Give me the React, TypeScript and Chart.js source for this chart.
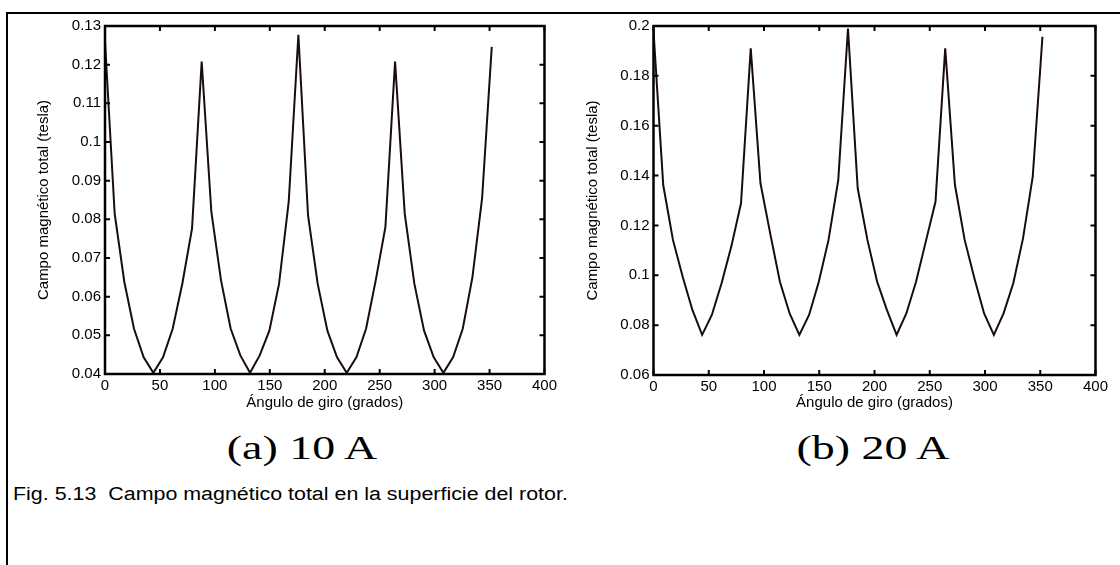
import React, { useEffect, useRef } from "react";
import { Chart, registerables } from "chart.js";

Chart.register(...registerables);

// ---------- data ----------
const angleDeg = [
  0, 8.8, 17.6, 26.4, 35.2, 44, 52.8, 61.6, 70.4, 79.2, 88, 96.8, 105.6, 114.4,
  123.2, 132, 140.8, 149.6, 158.4, 167.2, 176, 184.8, 193.6, 202.4, 211.2, 220,
  228.8, 237.6, 246.4, 255.2, 264, 272.8, 281.6, 290.4, 299.2, 308, 316.8,
  325.6, 334.4, 343.2, 352,
];

const field10A = [
  0.126, 0.0815, 0.0638, 0.0517, 0.0443, 0.0403, 0.0443, 0.0517, 0.0634,
  0.0776, 0.1208, 0.0819, 0.0642, 0.0517, 0.0448, 0.0403, 0.0448, 0.0512,
  0.0633, 0.0845, 0.1277, 0.081, 0.0633, 0.0512, 0.0443, 0.0403, 0.0443,
  0.0517, 0.0642, 0.078, 0.1208, 0.0815, 0.0633, 0.0512, 0.0443, 0.0403,
  0.0443, 0.0517, 0.065, 0.0854, 0.1246,
];

const field20A = [
  0.198, 0.1362, 0.1142, 0.0994, 0.0861, 0.0761, 0.0841, 0.0968, 0.1115,
  0.1289, 0.191, 0.1369, 0.1168, 0.0974, 0.0847, 0.0761, 0.0841, 0.0974,
  0.1142, 0.1382, 0.199, 0.1349, 0.1142, 0.0974, 0.0861, 0.0761, 0.0847,
  0.0974, 0.1135, 0.1295, 0.191, 0.1362, 0.1142, 0.0988, 0.0847, 0.0761,
  0.0847, 0.0968, 0.1148, 0.1396, 0.1957,
];

const xTicks = [0, 50, 100, 150, 200, 250, 300, 350, 400];
const xTickLabels = ["0", "50", "100", "150", "200", "250", "300", "350", "400"];

const yTicks10A = [0.04, 0.05, 0.06, 0.07, 0.08, 0.09, 0.1, 0.11, 0.12, 0.13];
const yTickLabels10A = ["0.04", "0.05", "0.06", "0.07", "0.08", "0.09", "0.1", "0.11", "0.12", "0.13"];

const yTicks20A = [0.06, 0.08, 0.1, 0.12, 0.14, 0.16, 0.18, 0.2];
const yTickLabels20A = ["0.06", "0.08", "0.1", "0.12", "0.14", "0.16", "0.18", "0.2"];

const xTitle = "Ángulo de giro (grados)";
const yTitle = "Campo magnético total (tesla)";
const captionA = "(a) 10 A";
const captionB = "(b) 20 A";
const figCaption = "Fig. 5.13  Campo magnético total en la superficie del rotor.";

// ---------- styling ----------
const SANS = "'Liberation Sans', Arial, Helvetica, sans-serif";
const SERIF = "'Liberation Serif', 'Times New Roman', serif";
const chartFont = { family: SANS, size: 15 };

const matlabBox = {
  id: "matlabBox",
  afterDatasetsDraw(chart: any) {
    const { ctx, chartArea: a, scales } = chart;
    const tl = 5;
    ctx.save();
    ctx.strokeStyle = "#000";
    ctx.lineWidth = 2;
    ctx.beginPath();
    for (const t of scales.x.ticks) {
      const px = scales.x.getPixelForValue(t.value);
      ctx.moveTo(px, a.bottom);
      ctx.lineTo(px, a.bottom - tl);
      ctx.moveTo(px, a.top);
      ctx.lineTo(px, a.top + tl);
    }
    for (const t of scales.y.ticks) {
      const py = scales.y.getPixelForValue(t.value);
      ctx.moveTo(a.left, py);
      ctx.lineTo(a.left + tl, py);
      ctx.moveTo(a.right, py);
      ctx.lineTo(a.right - tl, py);
    }
    ctx.stroke();
    ctx.lineWidth = 2.5;
    ctx.strokeRect(a.left, a.top, a.right - a.left, a.bottom - a.top);
    ctx.restore();
  },
};

type PanelProps = {
  values: number[];
  yMin: number;
  yMax: number;
  yTicks: number[];
  yLabels: string[];
  left: number;
  padLeft: number;
  yWidth: number;
  padRight: number;
  xHeight: number;
};

const CANVAS_W = 560;
const CANVAS_H = 412;

function Panel(p: PanelProps) {
  const ref = useRef<HTMLCanvasElement | null>(null);
  useEffect(() => {
    if (!ref.current) return;
    const chart = new Chart(ref.current, {
      type: "line",
      data: {
        labels: angleDeg,
        datasets: [
          {
            data: angleDeg.map((x, i) => ({ x, y: p.values[i] })),
            borderColor: "#1a0c0c",
            borderWidth: 2,
            pointRadius: 0,
            tension: 0,
            fill: false,
          },
        ],
      },
      options: {
        responsive: false,
        animation: false,
        devicePixelRatio: 1,
        layout: { padding: { left: p.padLeft, right: p.padRight, top: 26, bottom: 0 } },
        plugins: { legend: { display: false }, tooltip: { enabled: false } },
        scales: {
          x: {
            type: "linear",
            min: 0,
            max: 400,
            afterBuildTicks: (s: any) => {
              s.ticks = xTicks.map((v) => ({ value: v }));
            },
            afterFit: (s: any) => {
              s.height = p.xHeight;
            },
            ticks: {
              callback: (_v: any, i: number) => xTickLabels[i],
              font: chartFont,
              color: "#000",
              padding: 3,
              maxRotation: 0,
              autoSkip: false,
            },
            grid: { display: false, drawTicks: false },
            border: { display: false },
            title: { display: true, text: xTitle, font: chartFont, color: "#000", padding: 0 },
          },
          y: {
            type: "linear",
            min: p.yMin,
            max: p.yMax,
            afterBuildTicks: (s: any) => {
              s.ticks = p.yTicks.map((v) => ({ value: v }));
            },
            afterFit: (s: any) => {
              s.width = p.yWidth;
            },
            ticks: {
              callback: (_v: any, i: number) => p.yLabels[i],
              font: chartFont,
              color: "#000",
              padding: 4,
              autoSkip: false,
            },
            grid: { display: false, drawTicks: false },
            border: { display: false },
            title: { display: true, text: yTitle, font: chartFont, color: "#000", padding: 0 },
          },
        },
      },
      plugins: [matlabBox],
    } as any);
    return () => chart.destroy();
  }, []);
  return (
    <canvas
      ref={ref}
      width={CANVAS_W}
      height={CANVAS_H}
      style={{ position: "absolute", left: p.left, top: 0, width: CANVAS_W, height: CANVAS_H }}
    />
  );
}

const captionStyle = (cx: number, cy: number, size: number, sx: number): React.CSSProperties => ({
  position: "absolute",
  left: cx,
  top: cy,
  transform: `translate(-50%, -50%) scaleX(${sx})`,
  fontFamily: SERIF,
  fontSize: size,
  lineHeight: 1,
  whiteSpace: "nowrap",
  color: "#000",
});

export default function App() {
  return (
    <div
      style={{
        position: "absolute",
        left: 0,
        top: 0,
        width: 1120,
        height: 565,
        overflow: "hidden",
        background: "#fff",
      }}
    >
      {/* outer frame */}
      <div style={{ position: "absolute", left: 6, top: 12, width: 2, height: 560, background: "#000" }} />
      <div style={{ position: "absolute", left: 6, top: 12, width: 1120, height: 2, background: "#000" }} />

      <Panel
        values={field10A}
        yMin={0.04}
        yMax={0.13}
        yTicks={yTicks10A}
        yLabels={yTickLabels10A}
        left={0}
        padLeft={35}
        yWidth={70}
        padRight={12.5}
        xHeight={38}
      />
      <Panel
        values={field20A}
        yMin={0.06}
        yMax={0.2}
        yTicks={yTicks20A}
        yLabels={yTickLabels20A}
        left={560}
        padLeft={24}
        yWidth={69.5}
        padRight={24.5}
        xHeight={37}
      />

      <div style={captionStyle(302, 448, 34, 1.35)}>{captionA}</div>
      <div style={captionStyle(873, 448, 34, 1.35)}>{captionB}</div>
      <div
        style={{
          position: "absolute",
          left: 13,
          top: 494,
          transform: "translateY(-50%) scaleX(1.19)",
          transformOrigin: "left center",
          fontFamily: SANS,
          fontSize: 18,
          lineHeight: 1,
          whiteSpace: "pre",
          color: "#000",
        }}
      >
        {figCaption}
      </div>
    </div>
  );
}
